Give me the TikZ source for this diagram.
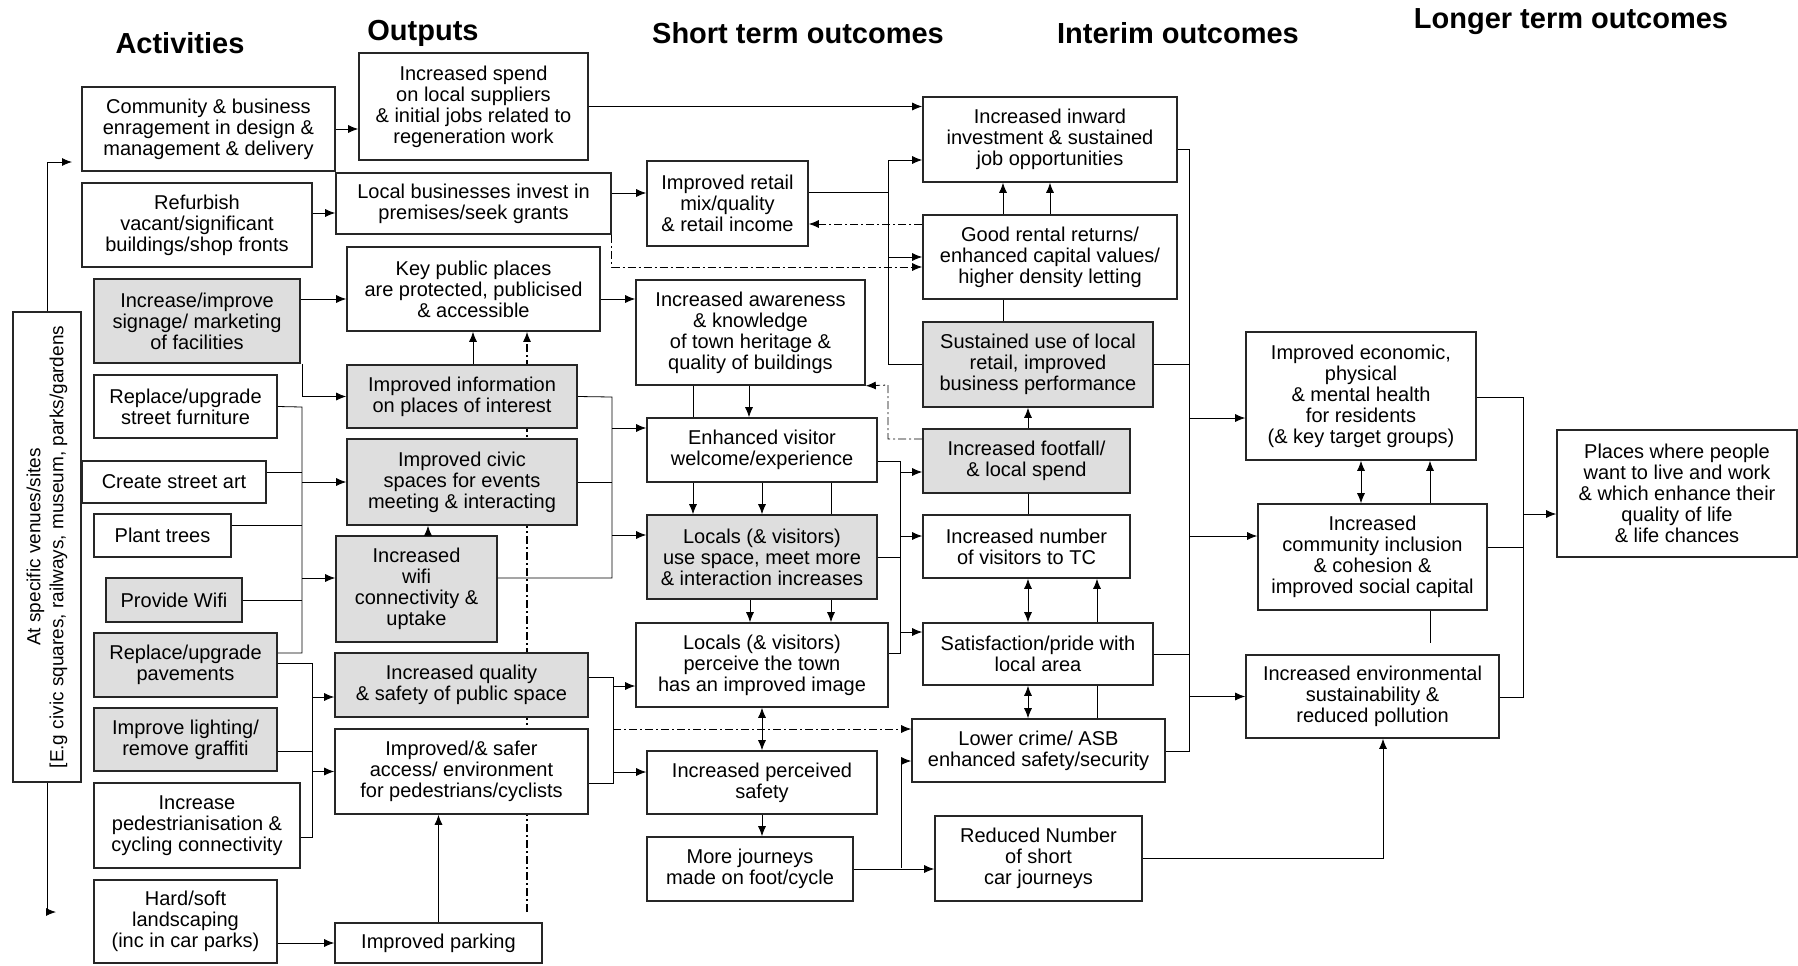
\documentclass[tikz,border=0pt]{standalone}
\usepackage{fontspec}
\setmainfont{Liberation Sans}
\usetikzlibrary{arrows.meta,calc}
\definecolor{boxgrey}{RGB}{222,222,222}
\pgfdeclarelayer{background}
\pgfsetlayers{background,main}
\tikzset{
  box/.style={draw=black!85, line width=0.8pt, fill=white, align=center, inner sep=0pt,
    font=\fontsize{10}{10.5}\selectfont},
  gbox/.style={box, fill=boxgrey},
  sz/.style 2 args={minimum width={#1*0.5pt}, minimum height={#2*0.5pt}},
  head/.style={font=\fontsize{14.5}{16}\selectfont\bfseries},
  arr/.style={-{Latex[length=5pt,width=4pt]}},
  dbl/.style={{Latex[length=5pt,width=4pt]}-{Latex[length=5pt,width=4pt]}},
  dd/.style={dash pattern=on 4pt off 1.5pt on 1pt off 1.5pt},
}

\begin{document}
\begin{tikzpicture}[x=0.5pt, y=-0.5pt, line width=0.85pt]
\useasboundingbox (0,0) rectangle (1798,965);

\node[head] (hact) at (180,43) {Activities};
\node[head] (hout) at (423,33) {Outputs};
\node[head] (hshort) at (798,33) {Short term outcomes};
\node[head] (hint) at (1178,33) {Interim outcomes};
\node[head] (hlong) at (1571,22) {Longer term outcomes};

\node[box, sz={68}{470}] (venue) at (47,547) {};
\node[rotate=90, align=center, font=\fontsize{9.5}{11.5}\selectfont] (venuetxt) at (venue.center)
  {At specific venues/sites\\{[}E.g civic squares, railways, museum, parks/gardens};

\node[box, sz={253}{84}] (comm) at (208.5,129) {Community \& business\\enragement in design \&\\management \& delivery};
\node[box, sz={230}{84}] (refurb) at (197,225) {Refurbish\\vacant/significant\\buildings/shop fronts};
\node[gbox, sz={206}{84}] (sign) at (197,321) {Increase/improve\\signage/ marketing\\of facilities};
\node[box, sz={183}{63}] (furn) at (185.5,406.5) {Replace/upgrade\\street furniture};
\node[box, sz={184}{42}] (art) at (174,482) {Create street art};
\node[box, sz={137}{43}] (trees) at (162.5,535.5) {Plant trees};
\node[gbox, sz={136}{44}] (wifi) at (174,600) {Provide Wifi};
\node[gbox, sz={183}{64}] (pave) at (185.5,665) {Replace/upgrade\\pavements};
\node[gbox, sz={183}{63}] (light) at (185.5,739.5) {Improve lighting/\\remove graffiti};
\node[box, sz={206}{85}] (ped) at (197,825.5) {Increase\\pedestrianisation \&\\cycling connectivity};
\node[box, sz={183}{83}] (land) at (185.5,921.5) {Hard/soft\\landscaping\\(inc in car parks)};

\node[box, sz={229}{107}] (spend) at (473.5,106.5) {Increased spend\\on local suppliers\\\& initial jobs related to\\regeneration work};
\node[box, sz={275}{61}] (lbiz) at (473.5,203.5) {Local businesses invest in\\premises/seek grants};
\node[box, sz={253}{84}] (kpp) at (473.5,289) {Key public places\\are protected, publicised\\\& accessible};
\node[gbox, sz={230}{63}] (info) at (462,396.5) {Improved information\\on places of interest};
\node[gbox, sz={230}{86}] (civic) at (462,482) {Improved civic\\spaces for events\\meeting \& interacting};
\node[gbox, sz={161}{106}] (wifiup) at (416.5,589) {Increased\\wifi\\connectivity \&\\uptake};
\node[gbox, sz={253}{64}] (qual) at (461.5,685) {Increased quality\\\& safety of public space};
\node[box, sz={253}{85}] (access) at (461.5,771.5) {Improved/\& safer\\access/ environment\\for pedestrians/cyclists};
\node[box, sz={207}{40}] (park) at (438.5,943) {Improved parking};

\node[box, sz={161}{85}] (retail) at (727.5,203.5) {Improved retail\\mix/quality\\\& retail income};
\node[box, sz={229}{105}] (aware) at (750.5,332.5) {Increased awareness\\\& knowledge\\of town heritage \&\\quality of buildings};
\node[box, sz={230}{64}] (enh) at (762,450) {Enhanced visitor\\welcome/experience};
\node[gbox, sz={230}{84}] (use) at (762,557) {Locals (\& visitors)\\use space, meet more\\\& interaction increases};
\node[box, sz={252}{84}] (perc) at (762,665) {Locals (\& visitors)\\perceive the town\\has an improved image};
\node[box, sz={230}{63}] (safe) at (762,782.5) {Increased perceived\\safety};
\node[box, sz={206}{64}] (journ) at (750,869) {More journeys\\made on foot/cycle};

\node[box, sz={254}{85}] (inward) at (1050,139.5) {Increased inward\\investment \& sustained\\job opportunities};
\node[box, sz={254}{84}] (rental) at (1050,257) {Good rental returns/\\enhanced capital values/\\higher density letting};
\node[gbox, sz={230}{85}] (sust) at (1038,364.5) {Sustained use of local\\retail, improved\\business performance};
\node[gbox, sz={207}{64}] (foot) at (1026.5,461) {Increased footfall/\\\& local spend};
\node[box, sz={207}{63}] (visit) at (1026.5,546.5) {Increased number\\of visitors to TC};
\node[box, sz={230}{62}] (satis) at (1038,654) {Satisfaction/pride with\\local area};
\node[box, sz={253}{63}] (crime) at (1038.5,750.5) {Lower crime/ ASB\\enhanced safety/security};
\node[box, sz={207}{85}] (reduc) at (1038.5,858.5) {Reduced Number\\of short\\car journeys};

\node[box, sz={230}{128}] (econ) at (1361,396) {Improved economic,\\physical\\\& mental health\\for residents\\(\& key target groups)};
\node[box, sz={229}{106}] (cohes) at (1372.5,557) {Increased\\community inclusion\\\& cohesion \&\\improved social capital};
\node[box, sz={253}{83}] (env) at (1372.5,696.5) {Increased environmental\\sustainability \&\\reduced pollution};
\node[box, sz={240}{127}] (place) at (1677,493.5) {Places where people\\want to live and work\\\& which enhance their\\quality of life\\\& life chances};

\begin{pgfonlayer}{background}
\coordinate (dtop) at (527,912);
\draw[dd, arr, line width=0.6pt] (dtop) -- (dtop |- kpp.south);
\end{pgfonlayer}

\coordinate (vtop) at (72,162);
\coordinate (vbot) at (56,912);
\draw[arr] (venue.north) |- (vtop);
\draw[arr] (venue.south) |- (vbot);

\draw[arr] (comm.east) -- (comm.east -| spend.west);
\draw[arr] (refurb.east |- 0,213) -- (lbiz.west |- 0,213);
\draw[arr] (sign.east |- 0,299) -- (kpp.west |- 0,299);
\draw[arr] ([xshift=1pt]sign.south east) |- (info.west);

\coordinate (ba) at (302,407);
\draw (furn.east) -- (ba) -- (ba |- 0,653) -- (pave.east |- 0,653);
\draw (art.east |- 0,472) -- (ba |- 0,472);
\draw (trees.east |- 0,525) -- (ba |- 0,525);
\draw (wifi.east) -- (ba |- wifi.east);
\draw[arr] (ba |- civic.west) -- (civic.west);
\draw[arr] (ba |- 0,578) -- (wifiup.west |- 0,578);

\coordinate (bb) at (312,663);
\draw (pave.east |- bb) -- (bb) -- (bb |- 0,837) -- (ped.east |- 0,837);
\draw (light.east |- 0,751) -- (bb |- 0,751);
\draw[arr] (bb |- 0,697) -- (qual.west |- 0,697);
\draw[arr] (bb |- access.west) -- (access.west);

\draw[arr] (land.east |- park.west) -- (park.west);
\draw[arr] (park.north) -- (park.north |- access.south);
\draw[arr] (info.north -| 473,0) -- (kpp.south -| 473,0);
\draw[arr] (wifiup.north -| 428,0) -- (civic.south -| 428,0);

\draw[arr] (spend.east) -- (spend.east -| inward.west);
\draw[arr] (lbiz.east |- 0,193) -- (retail.west |- 0,193);
\draw[dd, arr] (lbiz.south east) |- (rental.west |- 0,267);
\draw[arr] (kpp.east |- 0,299) -- (aware.west |- 0,299);

\coordinate (bc) at (612,397);
\draw (info.east) -- (bc) -- (bc |- 0,578) -- (wifiup.east |- 0,578);
\draw (civic.east) -- (bc |- civic.east);
\draw[arr] (bc |- 0,428) -- (enh.west |- 0,428);
\draw[arr] (bc |- 0,535) -- (use.west |- 0,535);

\coordinate (bd) at (613,677);
\draw (qual.east |- bd) -- (bd) -- (bd |- 0,783) -- (access.east |- 0,783);
\draw[arr] (bd |- 0,686) -- (perc.west |- 0,686);
\draw[arr] (bd |- 0,772) -- (safe.west |- 0,772);
\draw[dd, arr] (bd |- 0,729) -- (crime.west |- 0,729);

\draw (aware.south -| 693,0) -- (enh.north -| 693,0);
\draw[arr] (aware.south -| 749,0) -- (enh.north -| 749,0);
\foreach \x in {693,762} \draw[arr] (enh.south -| \x,0) -- (use.north -| \x,0);
\draw (enh.south -| 831,0) -- (use.north -| 831,0);
\foreach \x in {750,831} \draw[arr] (use.south -| \x,0) -- (perc.north -| \x,0);
\draw[dbl] (perc.south) -- (safe.north);
\draw[arr] (safe.south) -- (safe.south |- journ.north);

\coordinate (be) at (900,461);
\draw (enh.east |- be) -- (be) -- (be |- 0,653) -- (perc.east |- 0,653);
\draw (use.east) -- (be |- use.east);
\draw[arr] (be |- 0,472) -- (foot.west |- 0,472);
\draw[arr] (be |- 0,536) -- (visit.west |- 0,536);
\draw[arr] (be |- 0,632) -- (satis.west |- 0,632);

\draw[arr] (journ.east) -- (journ.east -| reduc.west);
\coordinate (bf) at (901,868);
\draw[arr] (bf) |- (crime.west |- 0,761);

\coordinate (bg) at (888,160);
\draw (retail.east |- 0,192) -- (bg |- 0,192);
\draw[arr] (sust.west) -| (bg) -- (inward.west |- bg);
\draw[arr] (bg |- 0,257) -- (rental.west |- 0,257);
\draw[dd, arr] (rental.west |- 0,224) -- (retail.east |- 0,224);
\foreach \x in {1003,1050} \draw[arr] (rental.north -| \x,0) -- (inward.south -| \x,0);
\draw (rental.south -| 1003,0) -- (sust.north -| 1003,0);
\draw[arr] (foot.north -| 1028,0) -- (sust.south -| 1028,0);
\coordinate (bh) at (888,385);
\draw[dd, arr] (foot.west |- 0,439) -| (bh) -- (aware.south east);
\draw (foot.south -| 1028,0) -- (visit.north -| 1028,0);
\draw[dbl] (visit.south -| 1028,0) -- (satis.north -| 1028,0);
\draw[arr] (satis.north -| 1097,0) -- (visit.south -| 1097,0);
\draw[dbl] (satis.south -| 1028,0) -- (crime.north -| 1028,0);
\draw (satis.south -| 1097,0) -- (crime.north -| 1097,0);

\coordinate (bi) at (1189,149);
\draw (inward.east |- bi) -- (bi) -- (bi |- 0,751) -- (crime.east |- 0,751);
\draw (sust.east) -- (bi |- sust.east);
\draw (satis.east) -- (bi |- satis.east);
\draw[arr] (bi |- 0,418) -- (econ.west |- 0,418);
\draw[arr] (bi |- 0,536) -- (cohes.west |- 0,536);
\draw[arr] (bi |- env.west) -- (env.west);

\draw[arr] (reduc.east) -| (env.south -| 1383,0);

\draw[dbl] (econ.south) -- (econ.south |- cohes.north);
\draw[arr] (cohes.north -| 1430,0) -- (econ.south -| 1430,0);
\coordinate (cend) at (1430,643);
\draw (cohes.south -| cend) -- (cend);
\coordinate (bj) at (1523,397);
\draw (econ.east |- bj) -- (bj) -- (bj |- 0,697) -- (env.east |- 0,697);
\draw (cohes.east |- 0,547) -- (bj |- 0,547);
\draw[arr] (bj |- 0,514) -- (place.west |- 0,514);
\end{tikzpicture}
\end{document}
